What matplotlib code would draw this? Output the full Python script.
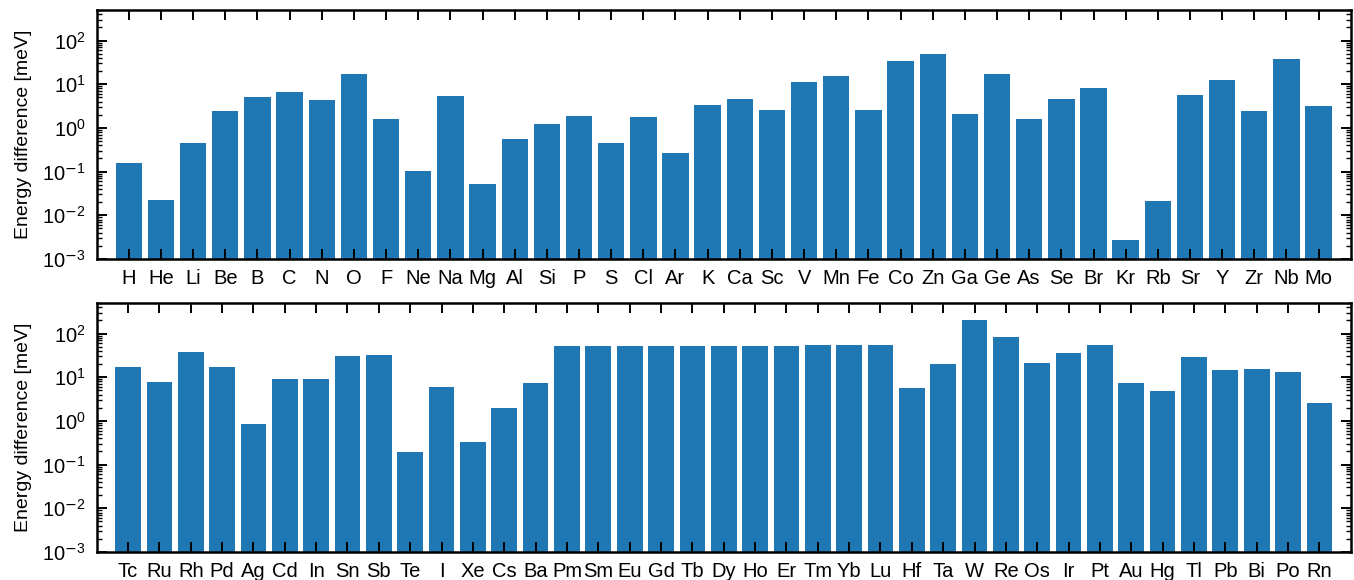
import numpy as np
import matplotlib
matplotlib.use("Agg")
import matplotlib.pyplot as plt
from matplotlib.ticker import LogLocator, FuncFormatter

plt.rcParams["font.family"] = ["Liberation Sans", "DejaVu Sans"]
plt.rcParams["mathtext.fontset"] = "custom"
plt.rcParams["mathtext.rm"] = "Liberation Sans"
plt.rcParams["mathtext.it"] = "Liberation Sans:italic"
plt.rcParams["mathtext.bf"] = "Liberation Sans:bold"
plt.rcParams["mathtext.sf"] = "DejaVu Sans"

# Energy differences (meV) per element
elements_top = ["H", "He", "Li", "Be", "B", "C", "N", "O", "F", "Ne", "Na", "Mg", "Al",
                "Si", "P", "S", "Cl", "Ar", "K", "Ca", "Sc", "V", "Mn", "Fe", "Co", "Zn",
                "Ga", "Ge", "As", "Se", "Br", "Kr", "Rb", "Sr", "Y", "Zr", "Nb", "Mo"]
energy_top = [0.158, 0.022, 0.46, 2.5, 4.97, 6.5, 4.47, 16.8, 1.63, 0.104, 5.5, 0.052, 0.57,
              1.25, 1.92, 0.46, 1.82, 0.27, 3.43, 4.7, 2.63, 11.0, 15.1, 2.63, 33.5, 48.5,
              2.13, 16.8, 1.63, 4.7, 8.0, 0.0027, 0.0212, 5.8, 12.2, 2.5, 37.2, 3.25]

elements_bottom = ["Tc", "Ru", "Rh", "Pd", "Ag", "Cd", "In", "Sn", "Sb", "Te", "I", "Xe",
                   "Cs", "Ba", "Pm", "Sm", "Eu", "Gd", "Tb", "Dy", "Ho", "Er", "Tm", "Yb",
                   "Lu", "Hf", "Ta", "W", "Re", "Os", "Ir", "Pt", "Au", "Hg", "Tl", "Pb",
                   "Bi", "Po", "Rn"]
energy_bottom = [17.5, 7.9, 38.6, 17.5, 0.86, 9.3, 9.3, 31.3, 33.0, 0.197, 6.1, 0.33,
                 2.01, 7.5, 53, 53, 53, 53, 53, 53, 53, 53, 56, 56,
                 56, 5.77, 20.5, 209, 85, 21.6, 36.6, 56, 7.5, 4.93, 29.7, 14.9,
                 15.7, 13.4, 2.61]


def decade_label(value, pos):
    exp = int(round(np.log10(value)))
    if exp < 0:
        return r"$10^{\mathsf{-}%d}$" % (-exp)
    return r"$10^{%d}$" % exp


fig = plt.figure(figsize=(13.54, 5.8), dpi=100)
ax_top = fig.add_axes([0.0714, 0.5534, 0.9262, 0.4294])
ax_bot = fig.add_axes([0.0714, 0.0483, 0.9262, 0.4293])

for ax, labels, values in [(ax_top, elements_top, energy_top),
                           (ax_bot, elements_bottom, energy_bottom)]:
    x = np.arange(len(labels))
    ax.bar(x, values, width=0.82, color="#1f77b4")
    ax.set_yscale("log")
    ax.set_ylim(1e-3, 5e2)
    ax.set_xlim(-1, len(labels))
    ax.set_xticks(x)
    ax.set_xticklabels(labels)
    ax.yaxis.set_major_locator(LogLocator(base=10, numticks=10))
    ax.yaxis.set_minor_locator(LogLocator(base=10, subs=np.arange(2, 10), numticks=20))
    ax.yaxis.set_major_formatter(FuncFormatter(decade_label))
    ax.tick_params(axis="both", which="major", direction="in", top=True, right=True,
                   length=7, width=1.4, labelsize=14.5)
    ax.tick_params(axis="x", which="major", pad=7)
    ax.tick_params(axis="y", which="major", pad=8)
    ax.tick_params(axis="y", which="minor", direction="in", left=True, right=True,
                   length=3.5, width=1.0)
    ax.tick_params(axis="x", which="minor", bottom=False, top=False)
    for s in ax.spines.values():
        s.set_linewidth(1.8)
    ax.set_ylabel("Energy difference [meV]", fontsize=14, labelpad=7)

fig.savefig("out.png", dpi=100)
